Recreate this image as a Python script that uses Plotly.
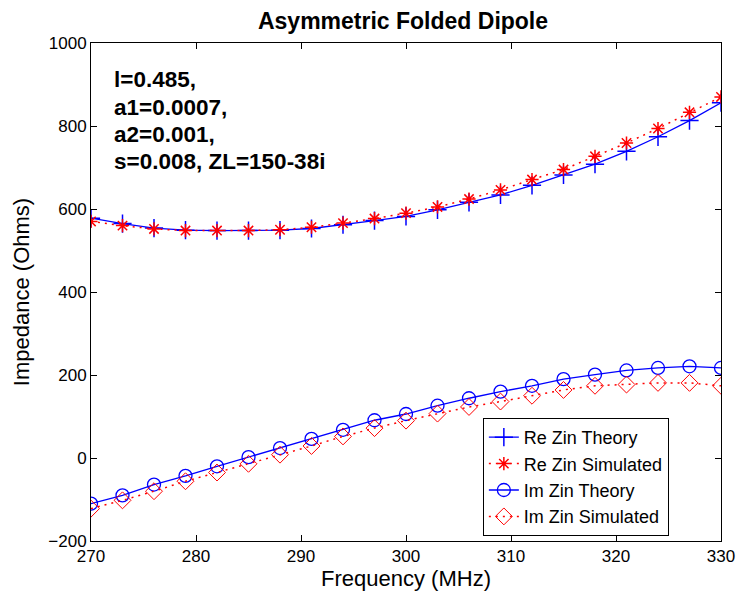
import plotly.graph_objects as go

freq = [270, 273, 276, 279, 282, 285, 288, 291, 294, 297, 300,
        303, 306, 309, 312, 315, 318, 321, 324, 327, 330]
re_theory = [578, 565, 554, 549, 548, 548, 549, 553, 562, 572, 582,
             598, 616, 634, 657, 682, 708, 739, 774, 813, 856]
re_sim = [570, 560, 552, 548, 548, 548, 550, 556, 566, 577, 590,
          605, 624, 646, 671, 695, 727, 759, 794, 833, 870]
im_theory = [-110, -90, -64, -43, -20, 2, 24, 46, 68, 91, 106,
             126, 144, 160, 174, 190, 201, 211, 217, 221, 217]
im_sim = [-122, -102, -80, -56, -35, -14, 8, 29, 52, 72, 90,
          107, 123, 136, 150, 164, 174, 177, 181, 181, 174]

names = ["Re Zin Theory", "Re Zin Simulated", "Im Zin Theory", "Im Zin Simulated"]
info_lines = ["l=0.485,", "a1=0.0007,", "a2=0.001,", "s=0.008, ZL=150-38i"]

BLUE = "#0000ff"
RED = "#ff0000"
FONT = "Liberation Sans, Arial, sans-serif"
DOTS = "2px,5px"

fig = go.Figure()
fig.add_trace(go.Scatter(x=freq, y=re_theory, name=names[0], mode="lines+markers",
                         line=dict(color=BLUE, width=1.3),
                         marker=dict(symbol="cross-thin-open", size=13, color=BLUE,
                                     line=dict(color=BLUE, width=1.5))))
fig.add_trace(go.Scatter(x=freq, y=re_sim, name=names[1], mode="lines+markers",
                         line=dict(color=RED, width=1.5, dash=DOTS),
                         marker=dict(symbol="asterisk-open", size=11, color=RED,
                                     line=dict(color=RED, width=1.5))))
fig.add_trace(go.Scatter(x=freq, y=im_theory, name=names[2], mode="lines+markers",
                         line=dict(color=BLUE, width=1.3),
                         marker=dict(symbol="circle-open", size=13, color=BLUE,
                                     line=dict(color=BLUE, width=1.3))))
fig.add_trace(go.Scatter(x=freq, y=im_sim, name=names[3], mode="lines+markers",
                         line=dict(color=RED, width=1.5, dash=DOTS),
                         marker=dict(symbol="diamond-open", size=13, color=RED,
                                     line=dict(color=RED, width=1.0))))

ys = [0.926, 0.871, 0.817, 0.763]
for t, yy in zip(info_lines, ys):
    fig.add_annotation(text="<b>%s</b>" % t, xref="paper", yref="paper",
                       x=0.034, y=yy, xanchor="left", yanchor="middle",
                       showarrow=False, font=dict(family=FONT, size=22.5, color="black"))

fig.update_layout(
    width=736, height=602,
    paper_bgcolor="white", plot_bgcolor="white",
    margin=dict(l=91, r=15, t=43, b=61),
    font=dict(family=FONT, size=17, color="black"),
    title=dict(text="<b>Asymmetric Folded Dipole</b>", x=403 / 736, xanchor="center",
               y=1 - 21 / 602, yanchor="middle", font=dict(family=FONT, size=23)),
    showlegend=True,
    legend=dict(x=0.622, y=0.247, xanchor="left", yanchor="top",
                bgcolor="white", bordercolor="black", borderwidth=1,
                font=dict(family=FONT, size=18), tracegroupgap=0),
    xaxis=dict(range=[270, 330], dtick=10, tick0=270, showgrid=False, zeroline=False,
               showline=True, linecolor="black", linewidth=1, mirror="allticks",
               ticks="inside", ticklen=6, tickcolor="black", automargin=False,
               tickfont=dict(size=17),
               title=dict(text="Frequency (MHz)", font=dict(size=22), standoff=2)),
    yaxis=dict(range=[-200, 1000], dtick=200, showgrid=False, zeroline=False,
               showline=True, linecolor="black", linewidth=1, mirror="allticks",
               ticks="inside", ticklen=6, tickcolor="black", automargin=False,
               tickfont=dict(size=17),
               title=dict(text="Impedance (Ohms)", font=dict(size=22), standoff=12)),
)

fig.write_html("out.html", config={"displayModeBar": False},
               post_script="document.body.style.margin='0';")
